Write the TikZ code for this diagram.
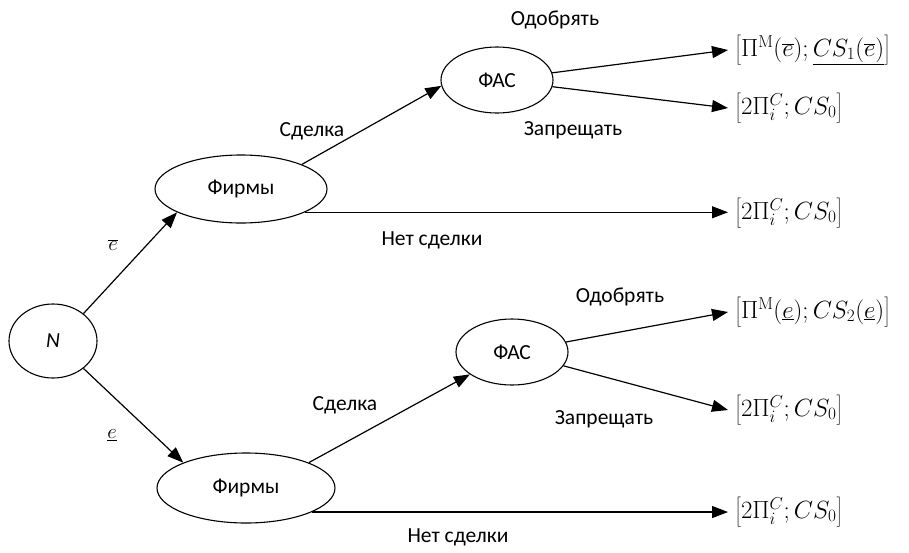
\documentclass[tikz,border=0pt]{standalone}
\usepackage[no-math]{fontspec}
\setmainfont{Carlito}
\usetikzlibrary{shapes,arrows.meta,positioning}
\begin{document}
\begin{tikzpicture}[x=1pt,y=-1pt]
   \tikzset{state node/.style={ellipse, draw, line width=1.1pt,
   		text centered, inner sep=0pt, font=\fontsize{21.5}{25}\selectfont}, }
   \tikzset{payoff node/.style={anchor=west, inner ysep=0pt, inner xsep=7pt,
   		font=\fontsize{24}{28}\selectfont}, }
   \tikzset{etiqueta/.style={font=\fontsize{21.5}{25}\selectfont}, }
   \tikzset{linea/.style={line width=1.2pt, -{Triangle[length=16pt,width=12pt]}},}
\useasboundingbox (0,0) rectangle (909,552);

\node[state node, minimum width=88pt, minimum height=74pt] (1) at (53,341) {\textit{N}};
\node[state node, minimum width=172pt, minimum height=68pt] (2) at (241,189) {Фирмы};
\node[state node, minimum width=178pt, minimum height=70pt] (3) at (246,488) {Фирмы};
\node[state node, minimum width=112pt, minimum height=66pt] (4) at (497,80) {ФАС};
\node[state node, minimum width=112pt, minimum height=66pt] (5) at (512,352) {ФАС};
% исходы
\node[payoff node] (6) at (728,50) {$\left[\Pi^{\mathrm{M}}(\overline{e}); \underline{CS_1(\overline{e})}\right]$};
\node[payoff node] (7) at (728,108) {$\left[2\Pi_i^C; CS_0\right]$};
\node[payoff node] (8) at (728,213) {$\left[2\Pi_i^C; CS_0\right]$};
\node[payoff node] (9) at (728,312) {$\left[\Pi^{\mathrm{M}}(\underline{e}); CS_2(\underline{e})\right]$};
\node[payoff node] (10) at (728,410) {$\left[2\Pi_i^C; CS_0\right]$};
\node[payoff node] (11) at (728,512) {$\left[2\Pi_i^C; CS_0\right]$};

\draw[linea] (1.42) -- (2.200);
\draw[linea] (1.318) -- (3.158);
\draw[linea] (2.22) -- (4.186);
\draw[linea] (3.22) -- (5.208);
\draw[linea] (4) -- (6.west);
\draw[linea] (4) -- (7.west);
\draw[linea] (2.-20) -- (2.-20 -| 8.west);
\draw[linea] (5) -- (9.west);
\draw[linea] (5) -- (10.west);
\draw[linea] (3.-20) -- (3.-20 -| 11.west);
% подписи
\node[etiqueta] (e1) at (113,245) {$\overline{e}$};
\node[etiqueta] (e2) at (112,435) {$\underline{e}$};
\node[etiqueta] (s1) at (312,131) {Сделка};
\node[etiqueta] (s2) at (345,405) {Сделка};
\node[etiqueta] (o1) at (555,20) {Одобрять};
\node[etiqueta] (o2) at (620,297) {Одобрять};
\node[etiqueta] (z1) at (573,130) {Запрещать};
\node[etiqueta] (z2) at (604,419) {Запрещать};
\node[etiqueta] (n1) at (432,240) {Нет сделки};
\node[etiqueta] (n2) at (458,537) {Нет сделки};
\end{tikzpicture}
\end{document}
